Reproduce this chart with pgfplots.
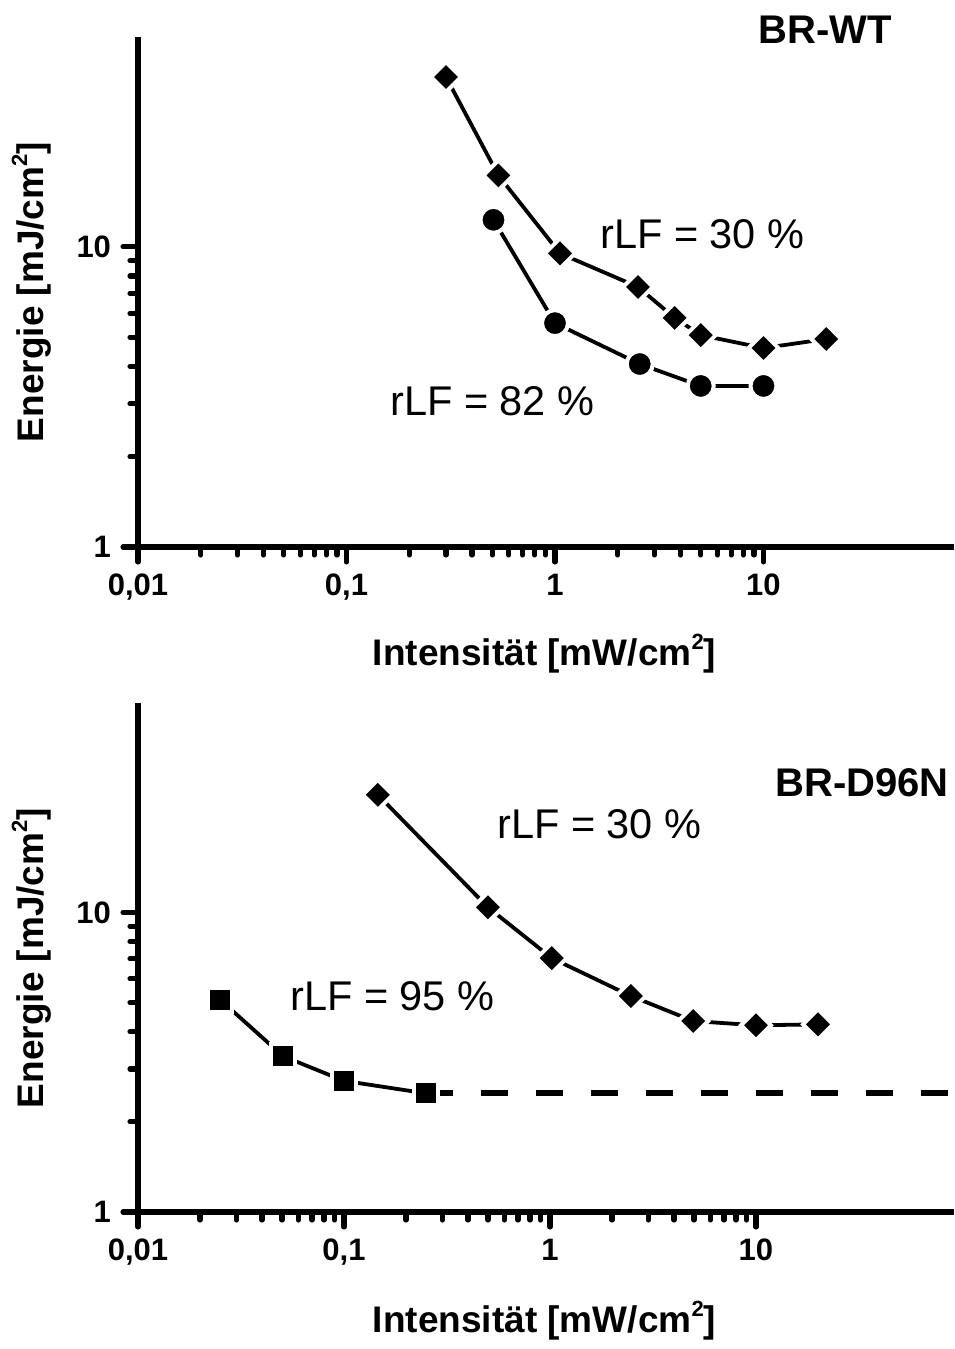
\documentclass[border=0pt]{standalone}
\usepackage{pgfplots}
\pgfplotsset{compat=1.18}
\usepackage{fontspec}
\setmainfont{Liberation Sans}
\newcommand{\sq}{\raisebox{8pt}{\fontsize{11}{11}\selectfont 2}}
\tikzset{
 dia/.style={black, line width=1.9pt, mark=square*, mark size=5.3pt,
   mark options={rotate=45, fill=black, draw=white, line width=2pt, solid}},
 circ/.style={black, line width=1.9pt, mark=*, mark size=6.5pt,
   mark options={fill=black, draw=white, line width=2pt, solid}},
 sqm/.style={black, line width=1.9pt, mark=square*, mark size=6pt,
   mark options={fill=black, draw=white, line width=2pt, solid}},
}
\pgfplotsset{
 every outer x axis line/.append style={line width=3.25pt},
 every outer y axis line/.append style={line width=3.25pt},
 every major tick/.append style={line width=2.6pt, line cap=round, black},
 every minor tick/.append style={line width=2.6pt, line cap=round, black},
}
\begin{document}
\begin{tikzpicture}[x=1pt,y=1pt]
\useasboundingbox (0,0) rectangle (477,-674.5);
% top panel
\begin{axis}[scale only axis, width=408pt, height=255pt,
  xmode=log, ymode=log,
  axis x line=bottom, axis y line=left,
  axis line style={-, line width=3.25pt},
  tick align=outside,
  major tick length=7.5pt, minor tick length=4pt,
  tick style={black, line width=2.6pt, line cap=round},
  xmin=0.01, xmax=82, ymin=1, ymax=50,
  xtick={0.01,0.1,1,10}, xticklabels={{0,01},{0,1},1,10},
  ytick={1,10}, yticklabels={1,10},
  tick label style={font=\bfseries\fontsize{15.5}{18}\selectfont},
  xticklabel style={yshift=-2.5pt}, yticklabel style={xshift=-2.5pt},
  clip=false, at={(69pt,-273.5pt)}, anchor=south west]
\draw[line width=3.25pt] (rel axis cs:0,1) -- (rel axis cs:0,0) -- (rel axis cs:1,0);
\addplot[dia] coordinates {(0.30,36.8) (0.535,17.3) (1.057,9.51) (2.5,7.35) (3.75,5.8) (5.0,5.08) (10,4.6) (20,4.93)};
\addplot[circ] coordinates {(0.507,12.3) (1.0,5.57) (2.55,4.07) (5.0,3.44) (10,3.44)};
\end{axis}
% bottom panel
\begin{axis}[scale only axis, width=408pt, height=254.5pt,
  xmode=log, ymode=log,
  axis x line=bottom, axis y line=left,
  axis line style={-, line width=3.25pt},
  tick align=outside,
  major tick length=7.5pt, minor tick length=4pt,
  tick style={black, line width=2.6pt, line cap=round},
  xmin=0.01, xmax=91.5, ymin=1, ymax=50,
  xtick={0.01,0.1,1,10}, xticklabels={{0,01},{0,1},1,10},
  ytick={1,10}, yticklabels={1,10},
  tick label style={font=\bfseries\fontsize{15.5}{18}\selectfont},
  xticklabel style={yshift=-2.5pt}, yticklabel style={xshift=-2.5pt},
  clip=false, at={(69pt,-606pt)}, anchor=south west]
\draw[line width=3.25pt] (rel axis cs:0,1) -- (rel axis cs:0,0) -- (rel axis cs:1,0);
\addplot[black, line width=3pt, dash pattern=on 13.5pt off 14pt] coordinates {(0.25,2.49) (91.5,2.49)};
\addplot[dia] coordinates {(0.146,24.7) (0.5,10.4) (1.02,7.04) (2.47,5.26) (4.96,4.34) (10,4.2) (20,4.23)};
\addplot[sqm] coordinates {(0.025,5.12) (0.0507,3.31) (0.1,2.74) (0.25,2.49)};
\end{axis}
% axis labels
\node[anchor=base, inner sep=0, font=\bfseries\fontsize{18.5}{20}\selectfont] at (272.25,-332.5) {Intensität [mW/cm\sq]};
\node[anchor=base, inner sep=0, font=\bfseries\fontsize{18.5}{20}\selectfont] at (272.25,-666) {Intensität [mW/cm\sq]};
\node[anchor=base, inner sep=0, rotate=90, font=\bfseries\fontsize{18.5}{20}\selectfont] at (21.5,-146) {Energie [mJ/cm\sq]};
\node[anchor=base, inner sep=0, rotate=90, font=\bfseries\fontsize{18.5}{20}\selectfont] at (21.5,-479) {Energie [mJ/cm\sq]};
% annotations
\node[anchor=base west, inner sep=0, font=\bfseries\fontsize{20}{24}\selectfont] at (379,-21.5) {BR-WT};
\node[anchor=base west, inner sep=0, font=\fontsize{20.75}{24}\selectfont] at (300,-124) {rLF = 30 \%};
\node[anchor=base west, inner sep=0, font=\fontsize{20.75}{24}\selectfont] at (195,-207.5) {rLF = 82 \%};
\node[anchor=base west, inner sep=0, font=\bfseries\fontsize{20}{24}\selectfont] at (387.5,-398) {BR-D96N};
\node[anchor=base west, inner sep=0, font=\fontsize{20.75}{24}\selectfont] at (248.5,-419) {rLF = 30 \%};
\node[anchor=base west, inner sep=0, font=\fontsize{20.75}{24}\selectfont] at (145,-505) {rLF = 95 \%};
\end{tikzpicture}
\end{document}
